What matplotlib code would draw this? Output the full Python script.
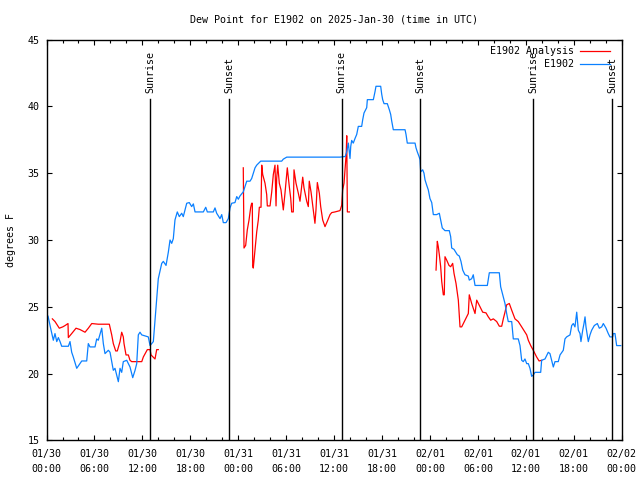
import matplotlib
matplotlib.use('Agg')
import matplotlib.pyplot as plt
import numpy as np

plt.rcParams['font.family'] = ['DejaVu Sans Mono']
plt.rcParams['font.size'] = 7.2

# hours since 01/30 00:00 UTC
blue_hours = [0.19, 0.44, 0.85, 1.06, 1.28, 1.48, 1.69, 1.90, 2.73, 2.94, 3.15, 3.35, 3.78, 4.19, 4.41,
              5.03, 5.23, 5.44, 6.07, 6.28, 6.48, 6.91, 7.11, 7.32, 7.74, 7.95, 8.16, 8.36, 8.57, 8.99,
              9.20, 9.41, 9.61, 10.04, 10.45, 10.79, 11.08, 11.29, 11.49, 11.70, 11.92, 12.74, 12.96,
              13.37, 13.58, 13.79, 13.99, 14.42, 14.62, 14.96, 15.25, 15.46, 15.67, 15.87, 16.08, 16.37,
              16.62, 16.92, 17.12, 17.55, 17.87, 18.17, 18.38, 18.59, 19.63, 19.93, 20.13, 20.88, 21.09,
              21.30, 21.72, 21.93, 22.13, 22.47, 22.76, 22.97, 23.18, 23.59, 23.81, 24.01, 24.22, 24.63,
              25.06, 25.47, 25.68, 26.10, 26.31, 26.81, 29.44, 29.64, 30.07, 36.74, 37.40, 37.58, 37.78,
              37.99, 38.08, 38.20, 38.40, 38.62, 38.83, 39.03, 39.45, 39.58, 39.74, 40.08, 40.16, 40.91,
              41.12, 41.24, 41.83, 41.96, 42.08, 42.25, 42.66, 42.91, 43.08, 43.21, 43.41, 44.88, 45.00,
              45.16, 46.13, 46.25, 46.41, 46.66, 46.75, 46.84, 47.09, 47.25, 47.38, 47.59, 47.79, 48.00,
              48.22, 48.42, 48.84, 49.17, 49.34, 49.54, 49.88, 50.42, 50.59, 50.72, 51.01, 51.26, 51.42,
              51.67, 51.88, 52.10, 52.38, 52.80, 52.92, 53.22, 53.42, 53.64, 55.18, 55.43, 56.68, 56.85,
              57.18, 57.39, 57.60, 57.80, 58.23, 58.43, 59.05, 59.27, 59.48, 59.68, 59.89, 60.11, 60.31,
              60.52, 60.73, 60.93, 61.15, 61.86, 61.98, 62.40, 62.81, 63.02, 63.44, 63.65, 64.06, 64.28,
              64.69, 64.90, 65.11, 65.53, 65.74, 65.94, 66.15, 66.37, 66.44, 66.57, 66.78, 66.90, 67.12,
              67.28, 67.41, 67.53, 67.82, 68.03, 68.24, 68.57, 68.95, 69.20, 69.50, 69.70, 70.04, 70.32,
              70.53, 70.87, 70.95, 71.16, 71.37, 71.88]
blue_dew = [24.3, 23.6, 22.5, 23.0, 22.4, 22.7, 22.4, 22.05, 22.05, 22.4, 21.6, 21.25, 20.4, 20.75, 20.95,
            20.95, 22.25, 22.0, 22.0, 22.6, 22.5, 23.4, 22.25, 21.5, 21.75, 21.6, 20.9, 20.25, 20.4, 19.4,
            20.4, 20.1, 20.9, 21.0, 20.5, 19.7, 20.25, 20.75, 22.9, 23.1, 22.9, 22.75, 22.1,
            22.4, 24.0, 25.5, 27.1, 28.25, 28.4, 28.1, 29.1, 30.0, 29.75, 30.1, 31.5, 32.1,
            31.75, 32.0, 31.75, 32.75, 32.8, 32.5, 32.7, 32.1, 32.1, 32.45, 32.1, 32.1, 32.4,
            32.0, 31.6, 31.9, 31.3, 31.3, 31.6, 32.4, 32.75, 32.8, 33.25, 33.05, 33.3, 33.6,
            34.4, 34.4, 34.6, 35.4, 35.6, 35.9, 35.9, 36.05, 36.2, 36.2, 36.25, 36.6, 37.25,
            36.1, 37.0, 37.45, 37.25, 37.6, 37.9, 38.5, 38.5, 39.0, 39.5, 39.9, 40.5, 40.5,
            41.1, 41.5, 41.5, 40.9, 40.5, 40.2, 40.2, 39.75, 39.4, 38.9, 38.25, 38.25, 37.9,
            37.25, 37.25, 36.9, 36.6, 36.2, 36.0, 35.1, 35.25, 35.0, 34.5, 34.1, 33.75, 33.1,
            32.8, 31.9, 31.9, 32.0, 31.5, 30.9, 30.7, 30.7, 30.25, 29.4, 29.3, 29.05, 28.9,
            28.8, 28.4, 27.75, 27.4, 27.3, 27.0, 27.1, 27.4, 26.6, 26.6, 27.55, 27.55, 26.5,
            25.75, 25.25, 24.5, 23.9, 23.9, 22.6, 22.6, 22.1, 21.0, 20.9, 21.1, 20.75, 20.75,
            20.4, 19.8, 19.9, 20.1, 20.1, 21.0, 21.1, 21.6, 21.5, 20.5, 20.9, 20.9, 21.4,
            21.75, 22.6, 22.75, 22.9, 23.6, 23.75, 23.5, 24.6, 24.1, 23.25, 23.0, 22.4, 23.25,
            23.75, 24.25, 23.5, 22.4, 22.9, 23.25, 23.6, 23.75, 23.4, 23.5, 23.75, 23.4, 23.0,
            22.75, 22.75, 23.0, 23.0, 22.1, 22.1]

nan = np.nan
red_hours = [0.73, 1.06, 1.60, 2.03, 2.32, 2.69, 2.73, 3.15, 3.69, 4.19, 4.82, 5.23, 5.66, 6.48, 7.86,
             8.16, 8.36, 8.66, 8.86, 9.20, 9.41, 9.61, 9.70, 9.95, 10.24, 10.45, 10.66, 11.92, 12.12,
             12.62, 12.96, 13.08, 13.58, 13.79, 13.99, 14.0,
             24.63, 24.72, 24.93, 25.13, 25.35, 25.56, 25.68, 25.76, 25.81, 25.88, 26.10, 26.31, 26.51,
             26.64, 26.85, 26.94, 27.06, 27.35, 27.56, 27.64, 27.98, 28.19, 28.39, 28.60, 28.73, 28.81,
             28.94, 29.14, 29.35, 29.57, 29.64, 29.85, 30.14, 30.39, 30.57, 30.69, 30.89, 30.98, 31.23,
             31.52, 31.73, 32.07, 32.23, 32.57, 32.77, 32.89, 33.11, 33.32, 33.60, 33.73, 33.90, 34.15,
             34.32, 34.57, 34.86, 35.15, 35.49, 35.70, 36.11, 36.74, 36.95, 37.07, 37.24, 37.40, 37.52,
             37.58, 37.66, 37.91, 38.0,
             48.76, 48.92, 49.04, 49.17, 49.34, 49.47, 49.67, 49.79, 49.88, 50.09, 50.38, 50.59, 50.84,
             51.01, 51.26, 51.55, 51.76, 51.97, 52.38, 52.80, 52.92, 53.22, 53.64, 53.85, 54.26, 54.60,
             55.01, 55.30, 55.60, 55.93, 56.35, 56.68, 56.98, 57.18, 57.39, 57.60, 57.93, 58.23, 58.64,
             59.05, 59.48, 59.89, 60.11, 60.31, 60.61, 60.93, 61.35, 61.66, 61.98]
red_dew = [24.1, 23.9, 23.4, 23.5, 23.6, 23.75, 22.7, 23.0, 23.4, 23.3, 23.1, 23.4, 23.75, 23.7, 23.7,
           22.9, 22.25, 21.7, 21.7, 22.4, 23.1, 22.75, 22.25, 21.4, 21.4, 21.0, 20.9, 20.9, 21.25,
           21.8, 21.8, 21.4, 21.1, 21.8, 21.8, nan,
           35.4, 29.4, 29.6, 30.75, 31.5, 32.45, 32.75, 32.75, 28.1, 27.9, 29.25, 30.6, 31.5,
           32.45, 32.45, 35.6, 34.9, 34.25, 33.4, 32.55, 32.55, 33.6, 34.9, 35.6, 32.55, 34.6,
           35.6, 34.25, 33.75, 32.6, 32.25, 33.5, 35.4, 34.0, 33.1, 32.1, 32.1, 35.25, 34.25,
           33.5, 32.9, 34.7, 33.9, 32.9, 32.5, 34.4, 33.6, 32.6, 31.25, 32.25, 34.3, 33.5,
           32.5, 31.5, 31.0, 31.4, 31.9, 32.05, 32.1, 32.2, 32.6, 33.75, 34.25, 35.6, 36.5,
           37.8, 32.1, 32.1, nan,
           27.75, 29.9, 29.5, 28.9, 28.0, 26.9, 25.9, 25.9, 28.75, 28.5, 28.1, 28.0, 28.25,
           27.5, 26.75, 25.5, 23.5, 23.5, 24.0, 24.5, 25.9, 25.25, 24.5, 25.5, 25.0, 24.6,
           24.55, 24.25, 24.0, 24.1, 23.9, 23.55, 23.55, 24.1, 24.6, 25.15, 25.25, 24.75, 24.1,
           23.9, 23.5, 23.1, 22.9, 22.5, 22.1, 21.75, 21.25, 20.95, 21.0]

sun_hours = [12.98, 22.88, 36.95, 46.79, 60.93, 70.82]
sun_labels = ['Sunrise', 'Sunset', 'Sunrise', 'Sunset', 'Sunrise', 'Sunset']

tick_hours = list(range(0, 73, 6))
tick_labels = ['01/30\n00:00', '01/30\n06:00', '01/30\n12:00', '01/30\n18:00',
               '01/31\n00:00', '01/31\n06:00', '01/31\n12:00', '01/31\n18:00',
               '02/01\n00:00', '02/01\n06:00', '02/01\n12:00', '02/01\n18:00',
               '02/02\n00:00']

fig = plt.figure(figsize=(6.4, 4.8), dpi=100)
ax = fig.add_axes([0.0727, 0.0823, 0.8987, 0.8354])

ax.plot(red_hours, red_dew, color='#ff0000', lw=0.9, label='E1902 Analysis')
ax.plot(blue_hours, blue_dew, color='#0a80ff', lw=0.9, label='E1902')

for h, s in zip(sun_hours, sun_labels):
    ax.plot([h, h], [15, 40.55], color='black', lw=1.0)
    ax.text(h, 41.0, s, rotation=90, ha='center', va='bottom')

ax.set_xlim(0, 72)
ax.set_ylim(15, 45)
ax.set_xticks(tick_hours)
ax.set_xticklabels(tick_labels)
for lbl in ax.get_xticklabels():
    lbl.set_linespacing(1.65)
ax.set_xticks(range(0, 73, 2), minor=True)
ax.set_yticks(range(15, 46, 5))
ax.tick_params(which='both', direction='in', top=True, right=True, width=0.8)
ax.tick_params(which='major', length=3.5, pad=5)
ax.tick_params(axis='x', which='major', pad=6)
ax.tick_params(which='minor', length=2)
for sp in ax.spines.values():
    sp.set_linewidth(1.0)

ax.set_ylabel('degrees F', labelpad=8)
ax.set_title('Dew Point for E1902 on 2025-Jan-30 (time in UTC)', pad=12, fontsize=7.2)

ax.legend(loc='upper right', bbox_to_anchor=(0.9875, 0.996), frameon=False, markerfirst=False,
          handlelength=3.0, handletextpad=0.6, labelspacing=0.3, borderpad=0)

fig.savefig('out.png', dpi=100)
